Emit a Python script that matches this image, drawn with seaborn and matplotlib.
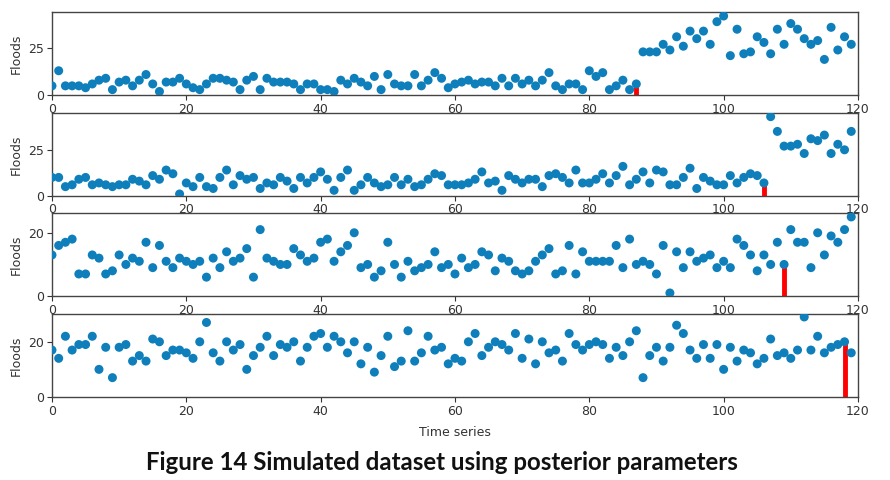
import numpy as np
import pandas as pd
import matplotlib
matplotlib.use("Agg")
import matplotlib.pyplot as plt
import seaborn as sns

time_index = list(range(120))

floods_1 = [5, 13, 5, 5, 5, 4, 6, 8, 9, 3, 7, 8, 5, 8, 11, 6, 2, 7, 7, 9,
            6, 4, 3, 6, 9, 9, 8, 7, 3, 8, 10, 3, 9, 7, 7, 7, 6, 3, 6, 6,
            3, 3, 2, 8, 6, 9, 7, 5, 10, 3, 11, 6, 5, 5, 11, 5, 8, 12, 9, 4,
            6, 7, 8, 6, 7, 7, 5, 9, 5, 9, 6, 8, 5, 8, 12, 5, 3, 6, 6, 3,
            13, 10, 12, 3, 5, 8, 3, 6, 23, 23, 23, 27, 24, 31, 26, 34, 30, 34, 27, 39,
            42, 21, 35, 22, 23, 31, 28, 22, 35, 27, 38, 35, 30, 27, 29, 19, 36, 24, 31, 27]

floods_2 = [10, 10, 5, 6, 9, 10, 6, 7, 6, 5, 6, 6, 9, 8, 6, 11, 9, 14, 12, 1,
            7, 5, 10, 5, 4, 10, 14, 6, 11, 9, 10, 4, 7, 6, 10, 8, 4, 10, 7, 10,
            13, 9, 3, 10, 14, 3, 6, 10, 7, 5, 6, 10, 6, 9, 5, 6, 9, 12, 11, 6,
            6, 6, 7, 9, 13, 7, 8, 3, 11, 9, 7, 9, 9, 5, 11, 12, 10, 7, 14, 7,
            7, 9, 12, 7, 11, 16, 6, 9, 13, 7, 14, 13, 6, 6, 10, 15, 4, 10, 8, 6,
            6, 11, 7, 10, 12, 11, 7, 43, 35, 27, 27, 28, 23, 31, 30, 33, 23, 28, 25, 35]

floods_3 = [13, 16, 17, 18, 7, 7, 13, 12, 7, 8, 13, 10, 12, 11, 17, 9, 16, 11, 9, 12,
            11, 10, 11, 6, 12, 9, 14, 11, 12, 15, 6, 21, 12, 11, 10, 10, 15, 13, 11, 12,
            17, 18, 11, 14, 16, 20, 9, 10, 6, 8, 17, 10, 6, 11, 8, 9, 10, 14, 9, 10,
            7, 12, 9, 10, 14, 13, 8, 12, 11, 8, 7, 8, 11, 13, 15, 7, 8, 16, 7, 14,
            11, 11, 11, 11, 16, 9, 18, 10, 11, 10, 7, 16, 1, 14, 9, 14, 11, 12, 13, 9,
            11, 9, 18, 16, 13, 8, 13, 10, 17, 10, 21, 17, 17, 9, 20, 13, 19, 17, 21, 25]

floods_4 = [17, 14, 22, 17, 19, 19, 22, 10, 18, 7, 18, 19, 13, 15, 13, 21, 20, 15, 17, 17,
            16, 14, 20, 27, 16, 13, 20, 17, 19, 10, 15, 18, 22, 15, 19, 18, 20, 13, 18, 22,
            23, 18, 22, 20, 16, 20, 12, 18, 9, 15, 22, 11, 13, 24, 13, 16, 22, 17, 18, 12,
            14, 13, 20, 23, 15, 18, 20, 19, 17, 23, 14, 21, 12, 20, 16, 17, 13, 23, 19, 17,
            19, 20, 19, 14, 18, 15, 20, 24, 7, 15, 18, 13, 18, 26, 23, 17, 14, 19, 14, 19,
            10, 18, 13, 17, 16, 12, 14, 21, 15, 16, 14, 17, 29, 17, 22, 16, 18, 19, 20, 16]

change_points = [87, 106, 109, 118]
series_list = [floods_1, floods_2, floods_3, floods_4]
y_ticks = [[0, 25], [0, 25], [0, 20], [0, 20]]
x_ticks = [0, 20, 40, 60, 80, 100, 120]

sns.set_style("white")
plt.rcParams["font.family"] = ["DejaVu Sans"]

fig = plt.figure(figsize=(8.9, 4.8), dpi=100)
left, width, height = 0.0584, 0.9056, 0.173
bottoms = [0.8015, 0.592, 0.383, 0.173]

dot_color = "#0e7fba"
tick_color = "#333333"

for k, (vals, cp, yt, b) in enumerate(zip(series_list, change_points, y_ticks, bottoms)):
    ax = fig.add_axes([left, b, width, height])
    df = pd.DataFrame({"t": time_index, "floods": vals})
    sns.scatterplot(data=df, x="t", y="floods", ax=ax, color=dot_color,
                    s=42, linewidth=0, edgecolor="none", zorder=3)
    ax.vlines(cp, 0, vals[cp], color="red", linewidth=3.5, zorder=2)
    ax.set_xlim(0, 120)
    vmin, vmax = min(vals), max(vals)
    ax.set_ylim(0, vmax + 0.05 * (vmax - vmin))
    ax.set_yticks(yt)
    ax.set_xticks(x_ticks)
    ax.tick_params(axis="both", labelsize=9, colors=tick_color, length=3.5,
                   width=0.8, direction="out", bottom=True, left=True, pad=2)
    for sp in ax.spines.values():
        sp.set_visible(True)
        sp.set_color("#444444")
        sp.set_linewidth(1.0)
    ax.set_ylabel("Floods", fontsize=9, color=tick_color, labelpad=4)
    if k == 3:
        ax.set_xlabel("Time series", fontsize=9, color=tick_color, labelpad=6)
    else:
        ax.set_xlabel("")

fig.text(0.497, 0.036, "Figure 14 Simulated dataset using posterior parameters",
         ha="center", va="center", fontsize=17.3, fontweight="bold",
         family=["Lato", "DejaVu Sans"], color="#111111")

fig.savefig("out.png", dpi=100)
